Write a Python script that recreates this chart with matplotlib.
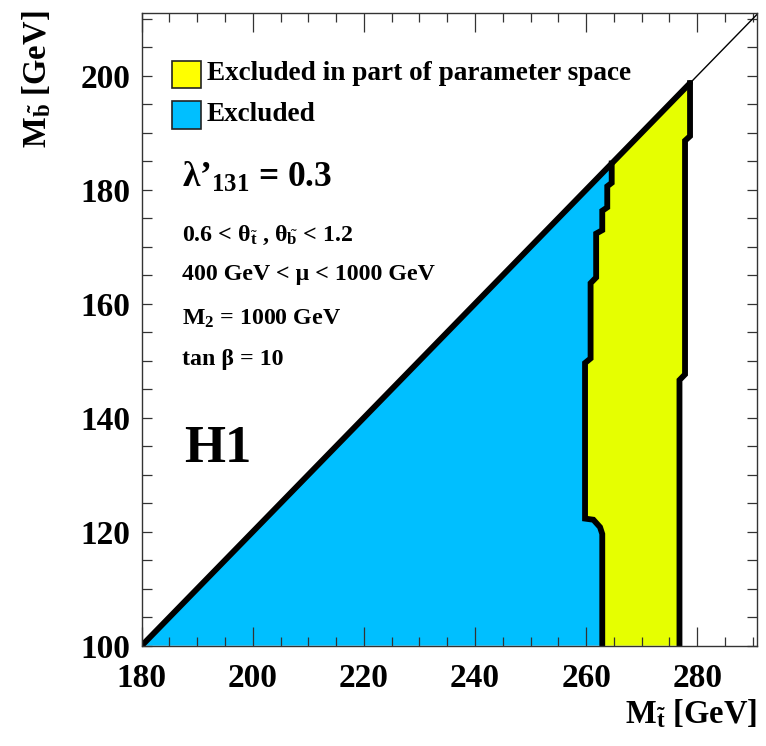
import matplotlib
matplotlib.use('Agg')
import matplotlib.pyplot as plt
from matplotlib.patches import Rectangle
from matplotlib.ticker import MultipleLocator

# boundary of the fully excluded (blue) region, bottom -> diagonal
excl_x = [262.9, 262.9, 262.5, 261.3, 259.8, 259.8, 260.8, 260.8, 261.8, 261.8,
          262.9, 262.9, 263.8, 263.8, 264.6, 264.6]
excl_y = [100, 119.6, 120.8, 122.1, 122.3, 149.6, 150.4, 163.6, 164.6, 172.3,
          172.9, 176.3, 176.9, 180.6, 181.2, 184.6]
# right edge of the partly excluded (yellow) region
part_x = [276.8, 276.8, 277.8, 277.8, 278.7, 278.7]
part_y = [100, 146.6, 147.6, 188.6, 189.4, 198.7]
# kinematic limit M_sb = M_st - 80
diag_off = 80
x_lim = (180, 290.7)
y_lim = (100, 211)
x_ticks = [180, 200, 220, 240, 260, 280]
y_ticks = [100, 120, 140, 160, 180, 200]

legend_labels = ['Excluded in part of parameter space', 'Excluded']
info_lines = [r'0.6 < θ$_{\tilde{t}}$ , θ$_{\tilde{b}}$ < 1.2',
              '400 GeV < μ < 1000 GeV',
              r'M$_2$ = 1000 GeV',
              'tan β = 10']

BLUE = '#00bfff'
YEL = '#e6ff00'
YEL_LEG = '#ffff00'

plt.rcParams['font.family'] = ['Liberation Serif', 'DejaVu Serif']
plt.rcParams['font.weight'] = 'bold'
plt.rcParams['mathtext.fontset'] = 'custom'
plt.rcParams['mathtext.rm'] = 'Liberation Serif:bold'
plt.rcParams['mathtext.it'] = 'Liberation Serif:bold'
plt.rcParams['mathtext.bf'] = 'Liberation Serif:bold'

W, H = 766, 746
fig = plt.figure(figsize=(W / 100, H / 100), dpi=100)
ax_l, ax_t, ax_r, ax_b = 141.7, 13.0, 756.7, 645.7
ax = fig.add_axes([ax_l / W, 1 - ax_b / H, (ax_r - ax_l) / W, (ax_b - ax_t) / H])


def af(px, py):
    # image pixel -> axes fraction
    return (px - ax_l) / (ax_r - ax_l), (ax_b - py) / (ax_b - ax_t)


# blue polygon: corner -> diagonal -> down the boundary
bx = [x_lim[0]] + excl_x[::-1]
by = [y_lim[0]] + excl_y[::-1]
ax.fill(bx, by, color=BLUE, lw=0, zorder=1)
# yellow polygon
yx = excl_x + part_x[::-1]
yy = excl_y + part_y[::-1]
ax.fill(yx, yy, color=YEL, lw=0, zorder=1)

lw = 4.2
ax.plot([x_lim[0], part_x[-1]], [x_lim[0] - diag_off, part_x[-1] - diag_off],
        color='black', lw=lw, solid_capstyle='round', zorder=3)
ax.plot([part_x[-1], x_lim[1]], [part_x[-1] - diag_off, x_lim[1] - diag_off],
        color='black', lw=1.0, zorder=3)
ax.plot(excl_x, excl_y, color='black', lw=lw, solid_joinstyle='miter', zorder=3)
ax.plot(part_x, part_y, color='black', lw=lw, solid_joinstyle='miter', zorder=3)

ax.set_xlim(*x_lim)
ax.set_ylim(*y_lim)
ax.set_xticks(x_ticks)
ax.set_yticks(y_ticks)
ax.xaxis.set_minor_locator(MultipleLocator(5))
ax.yaxis.set_minor_locator(MultipleLocator(5))
ax.tick_params(which='both', direction='in', top=True, right=True,
               width=0.9, color='#333333', labelsize=24)
ax.tick_params(axis='x', which='major', length=13.5, pad=12.5)
ax.tick_params(axis='x', which='minor', length=6.5)
ax.tick_params(axis='y', which='both', length=7.5)
ax.tick_params(axis='y', which='major', pad=8)
for sp in ax.spines.values():
    sp.set_linewidth(1.0)
    sp.set_color('#333333')
    sp.set_zorder(5)

# axis titles
fig.text(37 / W, 1 - 11 / H, r'M$_{\tilde{b}}$ [GeV]', rotation=90,
         ha='center', va='top', fontsize=23.5)
fig.text(757 / W, 1 - 697 / H, r'M$_{\tilde{t}}$ [GeV]',
         ha='right', va='top', fontsize=23.5)

# legend
for (top, bot), col, lab in zip([(60.7, 88.3), (100.7, 129.3)],
                                [YEL_LEG, BLUE], legend_labels):
    x0, y0 = af(171.7, bot)
    x1, y1 = af(201.0, top)
    ax.add_patch(Rectangle((x0, y0), x1 - x0, y1 - y0, transform=ax.transAxes,
                           facecolor=col, edgecolor='#222222', lw=1.2, zorder=6))
    tx, ty = af(207, bot - 8.3)
    ax.text(tx, ty, lab, transform=ax.transAxes, fontsize=19.6,
            ha='left', va='baseline', zorder=6)

tx, ty = af(182, 187)
ax.text(tx, ty, 'λ\u2019$_{131}$ = 0.3', transform=ax.transAxes,
        fontsize=25.5, va='baseline')
for base, line in zip([240.7, 280.5, 324.5, 365.0], info_lines):
    tx, ty = af(182, base)
    ax.text(tx, ty, line, transform=ax.transAxes, fontsize=17.2, va='baseline')

tx, ty = af(184, 461.7)
ax.text(tx, ty, 'H1', transform=ax.transAxes, fontsize=38, va='baseline')

fig.savefig('out.png', dpi=100)
